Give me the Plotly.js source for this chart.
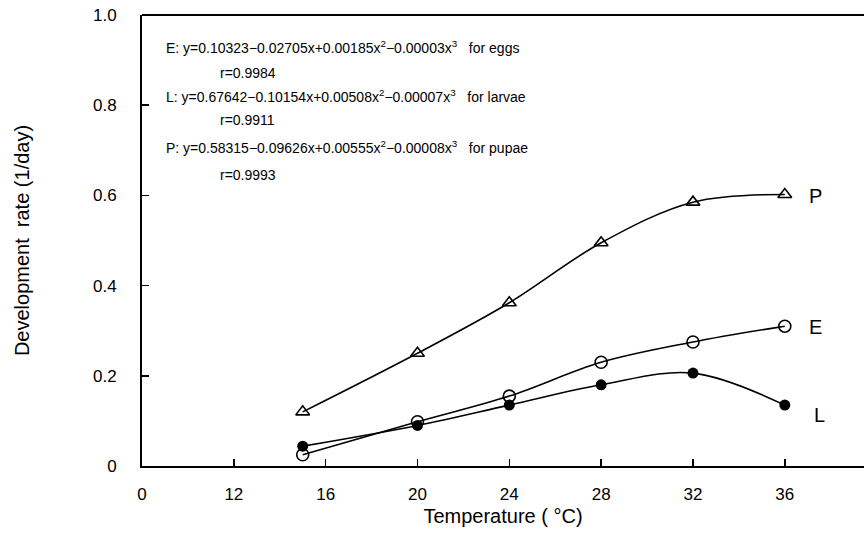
<!DOCTYPE html>
<html>
<head>
<meta charset="utf-8">
<script src="https://cdn.plot.ly/plotly-3.0.1.min.js"></script>
<style>html,body{margin:0;padding:0;background:#fff;}#chart{width:864px;height:546px;}</style>
</head>
<body>
<div id="chart"></div>
<script>
// Temperature (°C) of each rearing treatment
const temperature = [15, 20, 24, 28, 32, 36];
// Development rates (1/day)
const eggs   = [0.025, 0.098, 0.155, 0.230, 0.275, 0.310];
const larvae = [0.044, 0.090, 0.135, 0.180, 0.206, 0.135];
const pupae  = [0.120, 0.250, 0.362, 0.495, 0.585, 0.602];

// Broken x axis: the "0" label sits where 8 would be
const xTickVals = [8, 12, 16, 20, 24, 28, 32, 36];
const xTickText = ['0', '12', '16', '20', '24', '28', '32', '36'];
const yTickVals = [0, 0.2, 0.4, 0.6, 0.8, 1.0];
const yTickText = ['0', '0.2', '0.4', '0.6', '0.8', '1.0'];

const equations = [
  'E: y=0.10323\u22120.02705x+0.00185x<sup>2</sup>\u22120.00003x<sup>3</sup>   for eggs',
  'r=0.9984',
  'L: y=0.67642\u22120.10154x+0.00508x<sup>2</sup>\u22120.00007x<sup>3</sup>   for larvae',
  'r=0.9911',
  'P: y=0.58315\u22120.09626x+0.00555x<sup>2</sup>\u22120.00008x<sup>3</sup>   for pupae',
  'r=0.9993'
];
const seriesLabels = ['P', 'E', 'L'];

const FONT = 'Liberation Sans, Arial, sans-serif';
const lineStyle = {color: '#000', width: 1.6, shape: 'spline', smoothing: 1};

const traces = [
  {x: temperature, y: pupae, mode: 'lines+markers', line: lineStyle,
   marker: {symbol: 'triangle-up-open', size: 12, color: '#000', line: {width: 1.6, color: '#000'}}},
  {x: temperature, y: eggs, mode: 'lines+markers', line: lineStyle,
   marker: {symbol: 'circle-open', size: 12, color: '#000', line: {width: 1.6, color: '#000'}}},
  {x: temperature, y: larvae, mode: 'lines+markers', line: lineStyle,
   marker: {symbol: 'circle', size: 11, color: '#000'}}
];

const eqX = [0.030, 0.105, 0.030, 0.105, 0.030, 0.105];
const eqY = [47, 73, 96, 120, 147, 175];
const annotations = equations.map((t, i) => ({
  xref: 'paper', yref: 'paper', x: eqX[i], y: (466 - eqY[i]) / 451,
  xanchor: 'left', yanchor: 'middle', text: t, showarrow: false,
  font: {family: FONT, size: 14, color: '#000'}
}));
const seriesY = [pupae, eggs, larvae];
seriesLabels.forEach((s, i) => {
  annotations.push({
    xref: 'x', yref: 'y', x: temperature[temperature.length - 1], y: seriesY[i][seriesY[i].length - 1],
    xshift: s === 'L' ? 27 : 22, yshift: s === 'L' ? -10 : -1,
    xanchor: 'left', yanchor: 'middle', text: s, showarrow: false,
    font: {family: FONT, size: 20, color: '#000'}
  });
});

const layout = {
  width: 864, height: 546,
  margin: {l: 142, r: 0, t: 15, b: 80},
  paper_bgcolor: '#fff', plot_bgcolor: '#fff',
  showlegend: false,
  font: {family: FONT, color: '#000'},
  xaxis: {
    range: [8, 39.45], tickvals: xTickVals, ticktext: xTickText,
    ticks: 'inside', ticklen: 7, tickwidth: 1.5, tickcolor: '#000',
    showline: true, linewidth: 2, linecolor: '#000', showgrid: false, zeroline: false,
    tickfont: {family: FONT, size: 17, color: '#000'}, ticklabelstandoff: 12,
    title: {text: 'Temperature ( \u00B0C)', font: {family: FONT, size: 20, color: '#000'}, standoff: 6}
  },
  yaxis: {
    range: [0, 1.0], tickvals: yTickVals, ticktext: yTickText,
    ticks: 'inside', ticklen: 7, tickwidth: 1.5, tickcolor: '#000',
    showline: true, linewidth: 2, linecolor: '#000', showgrid: false, zeroline: false,
    tickfont: {family: FONT, size: 17, color: '#000'}, ticklabelstandoff: 20,
    title: {text: 'Development\u00A0\u00A0rate (1/day)', font: {family: FONT, size: 20, color: '#000'}, standoff: 58}
  },
  shapes: [{type: 'line', xref: 'paper', yref: 'paper', x0: 0, x1: 1, y0: 1, y1: 1,
            line: {color: '#000', width: 2}}],
  annotations: annotations
};

Plotly.newPlot('chart', traces, layout, {staticPlot: true, displayModeBar: false});
</script>
</body>
</html>
